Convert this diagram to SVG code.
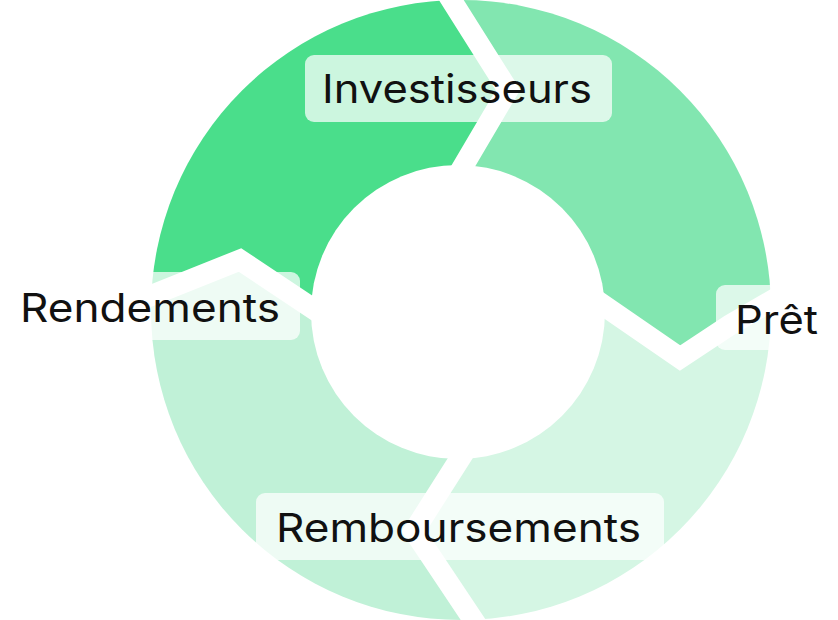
<svg xmlns="http://www.w3.org/2000/svg" width="838" height="620" viewBox="0 0 838 620">
<style>
.sep{fill:none;stroke:#fff;stroke-width:21;stroke-linejoin:miter}
.lbl{fill:#fff;fill-opacity:0.72}
.t{font-family:Inter,"Noto Sans",sans-serif;font-size:39px;fill:#111}
</style>
<defs><clipPath id="ring"><circle cx="461" cy="310" r="310"/></clipPath></defs>
<rect width="838" height="620" fill="#fff"/>
<g id="segments" clip-path="url(#ring)">
<polygon fill="#4ade8b" points="461,310 330,320 240,260 100,300 100,-50 445,-10 508,90 455,180"/>
<polygon fill="#82e6b0" points="461,310 455,180 508,90 445,-10 850,-50 850,290 730,325 680,358 590,296"/>
<polygon fill="#d5f6e4" points="461,310 590,296 680,358 730,325 850,290 850,700 480,630 414,531 475,435"/>
<polygon fill="#c0f1d7" points="461,310 475,435 414,531 480,630 100,700 100,300 240,260 330,320"/>
</g>
<circle cx="458" cy="312" r="147" fill="#fff"/>
<g id="connectors">
<polyline class="sep" points="445,-10 508,90 455,180"/>
<polyline class="sep" points="590,296 680,358 730,325 790,290"/>
<polyline class="sep" points="140,300 240,260 330,320"/>
<polyline class="sep" points="475,435 414,531 480,630"/>
</g>
<g id="investisseurs"><rect class="lbl" x="305" y="55" width="307" height="67" rx="9"/><text class="t" x="322" y="103" textLength="270" lengthAdjust="spacingAndGlyphs">Investisseurs</text></g>
<g id="pret"><rect class="lbl" x="716" y="285" width="130" height="65" rx="9"/><text class="t" x="735" y="334" textLength="83" lengthAdjust="spacingAndGlyphs">Prêt</text></g>
<g id="rendements"><rect class="lbl" x="-10" y="272" width="310" height="68" rx="9"/><text class="t" x="20" y="322" textLength="260" lengthAdjust="spacingAndGlyphs">Rendements</text></g>
<g id="remboursements"><rect class="lbl" x="256" y="493" width="408" height="67" rx="9"/><text class="t" x="276" y="542" textLength="365" lengthAdjust="spacingAndGlyphs">Remboursements</text></g>
</svg>
